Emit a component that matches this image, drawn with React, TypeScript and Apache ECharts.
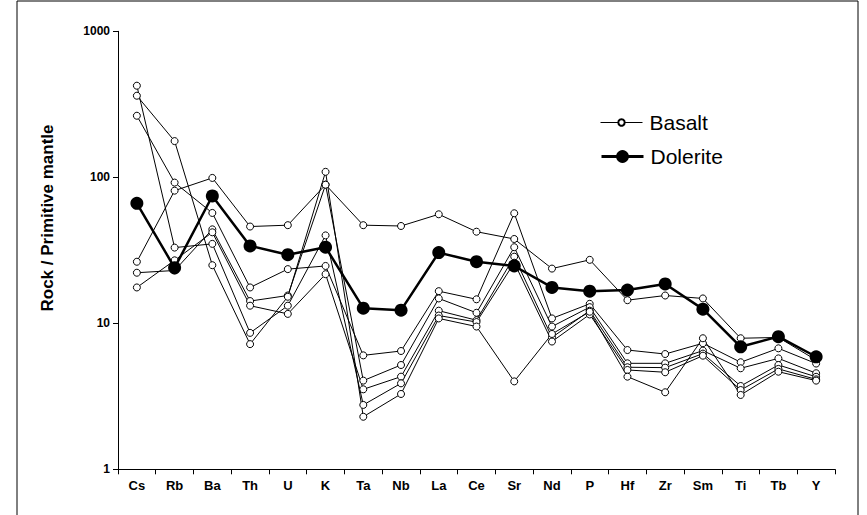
import React, { useEffect, useRef } from "react";
import * as echarts from "echarts";

const elements = ["Cs", "Rb", "Ba", "Th", "U", "K", "Ta", "Nb", "La", "Ce", "Sr", "Nd", "P", "Hf", "Zr", "Sm", "Ti", "Tb", "Y"];
const yTicks = ["1", "10", "100", "1000"];

const basaltA = [26.4, 81, 99, 46, 47, 89, 47, 46.4, 55.8, 42.4, 37.8, 23.7, 27.2, 14.4, 15.5, 14.8, 7.9, 8.0, 5.6];
const basaltB = [264, 92, 57, 17.6, 23.5, 24.7, 6.03, 6.46, 16.6, 14.6, 56.7, 10.8, 13.6, 6.56, 6.16, 7.3, 5.41, 6.74, 5.3];
const basaltC = [22.2, 23, 44, 14.2, 15.5, 89, 4.05, 5.18, 14.8, 11.8, 33.2, 9.5, 12.9, 5.32, 5.32, 6.5, 4.92, 5.75, 4.55];
const basaltD = [17.6, 27, 42, 13.2, 11.6, 21.7, 3.53, 4.31, 12.2, 10.5, 28.6, 8.0, 12.2, 5.0, 4.97, 6.2, 3.72, 5.18, 4.3];
const basaltE = [424, 33, 35, 8.6, 13.2, 40, 2.76, 3.88, 11.3, 10.2, 26, 7.5, 11.5, 4.79, 4.62, 6.0, 3.49, 4.87, 4.13];
const basaltF = [362, 177, 25, 7.2, 15.2, 109, 2.29, 3.28, 10.8, 9.5, 4.0, 8.45, 12.0, 4.31, 3.37, 7.9, 3.23, 4.66, 4.05];
const dolerite = [66.4, 24.0, 74.5, 33.9, 29.5, 33.2, 12.7, 12.3, 30.5, 26.4, 24.7, 17.6, 16.6, 16.9, 18.6, 12.5, 6.9, 8.1, 5.9];

const basaltSeries = [basaltA, basaltB, basaltC, basaltD, basaltE, basaltF];

const FONT = "Arial, 'Liberation Sans', sans-serif";

export default function App() {
  const ref = useRef<HTMLDivElement>(null);
  useEffect(() => {
    document.body.style.margin = "0";
    const chart = echarts.init(ref.current!, null, { renderer: "svg" });
    const series: any[] = basaltSeries.map((d) => ({
      name: "Basalt",
      type: "line",
      data: d,
      symbol: "circle",
      symbolSize: 7,
      lineStyle: { color: "#000", width: 1 },
      itemStyle: { color: "#fff", borderColor: "#000", borderWidth: 1 },
      emphasis: { disabled: true },
      z: 2,
    }));
    series.push({
      name: "Dolerite",
      type: "line",
      data: dolerite,
      symbol: "circle",
      symbolSize: 13,
      lineStyle: { color: "#000", width: 2.5 },
      itemStyle: { color: "#000", borderColor: "#000", borderWidth: 0 },
      emphasis: { disabled: true },
      z: 3,
    });
    const legendText = { fontFamily: FONT, fontSize: 21, color: "#000", padding: [0, 0, 0, 2] };
    chart.setOption({
      animation: false,
      backgroundColor: "#fff",
      textStyle: { fontFamily: FONT },
      graphic: [
        {
          type: "rect",
          shape: { x: 17, y: 1, width: 841, height: 530 },
          style: { fill: "none", stroke: "#000", lineWidth: 1 },
          silent: true,
        },
        {
          type: "text",
          x: 47,
          y: 218,
          rotation: Math.PI / 2,
          style: {
            text: "Rock / Primitive mantle",
            fontFamily: FONT,
            fontWeight: "bold",
            fontSize: 17,
            fill: "#000",
            align: "center",
            verticalAlign: "middle",
          },
          silent: true,
        },
      ],
      legend: [
        {
          data: ["Basalt"],
          orient: "vertical",
          left: 595,
          top: 107,
          itemWidth: 42,
          itemHeight: 8,
          lineStyle: { width: 1, color: "#000" },
          textStyle: legendText,
          selectedMode: false,
        },
        {
          data: ["Dolerite"],
          orient: "vertical",
          left: 595,
          top: 141,
          itemWidth: 42,
          itemHeight: 16,
          lineStyle: { width: 3, color: "#000" },
          textStyle: legendText,
          selectedMode: false,
        },
      ],
      grid: { left: 118, right: 32, top: 31.3, bottom: 45.7, containLabel: false },
      xAxis: {
        type: "category",
        data: elements,
        boundaryGap: true,
        axisLine: { lineStyle: { color: "#000", width: 1 } },
        axisTick: { show: true, inside: false, length: 5, lineStyle: { color: "#000" } },
        axisLabel: { color: "#000", fontWeight: "bold", fontSize: 13, fontFamily: FONT, margin: 10, interval: 0 },
        splitLine: { show: false },
      },
      yAxis: {
        type: "log",
        logBase: 10,
        min: 1,
        max: 1000,
        axisLine: { show: true, lineStyle: { color: "#000", width: 1 } },
        axisTick: { show: true, inside: false, length: 5, lineStyle: { color: "#000" } },
        minorTick: { show: false },
        axisLabel: {
          color: "#000",
          fontWeight: "bold",
          fontSize: 12,
          fontFamily: FONT,
          margin: 8,
          formatter: (v: number) => {
            const s = String(Math.round(v));
            return yTicks.includes(s) ? s : "";
          },
        },
        splitLine: { show: false },
      },
      series,
    });
    return () => chart.dispose();
  }, []);
  return <div ref={ref} style={{ width: 867, height: 515 }} />;
}
